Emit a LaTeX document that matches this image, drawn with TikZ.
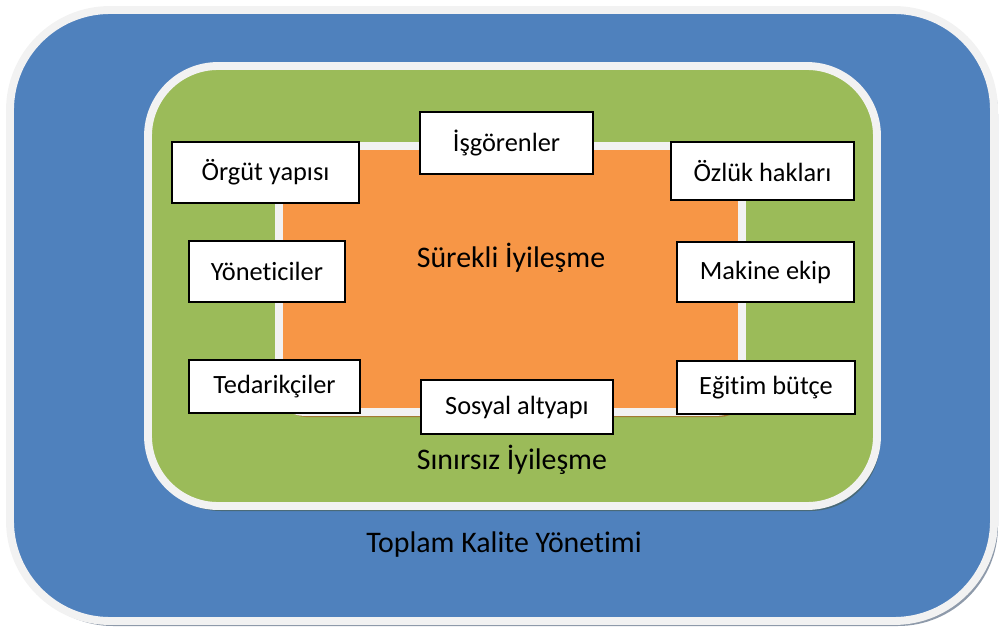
\documentclass[tikz,border=0pt]{standalone}
\usepackage{fontspec}
\setmainfont[Ligatures={NoCommon}]{Carlito}
\usepackage{tikz}
\usetikzlibrary{positioning,calc}

\definecolor{tkblue}{HTML}{4F81BD}
\definecolor{tkgreen}{HTML}{9BBB59}
\definecolor{tkorange}{HTML}{F79646}
\definecolor{tkrim}{HTML}{F2F2F2}
\definecolor{tkshadeblue}{HTML}{8E9AAA}
\definecolor{tkshadegreen}{HTML}{4A6A78}
\definecolor{tkshadeorange}{HTML}{A27A32}

\begin{document}
\begin{tikzpicture}[x=0.02cm, y=-0.02cm, font=\fontsize{15}{17}\selectfont]
    \tikzstyle{layer} = [draw=tkrim, line width=4.5pt]
    \tikzstyle{box} = [rectangle, draw=black, line width=1pt, fill=white, text centered, inner sep=0pt]
    \tikzstyle{label} = [text=black, font=\fontsize{17}{19}\selectfont]

    \useasboundingbox (0,0) rectangle (1002,632);

    % outer layer: Toplam Kalite Yonetimi
    \fill [tkshadeblue, rounded corners=100*0.02cm] (13,14) rectangle (998,626);
    \path [layer, fill=tkblue, rounded corners=100*0.02cm] (10,10) rectangle (994,621);
    % middle layer
    \fill [tkshadegreen, rounded corners=70*0.02cm] (151,70) rectangle (880,511);
    \path [layer, fill=tkgreen, rounded corners=70*0.02cm] (148,66) rectangle (877,506);
    % inner layer
    \fill [tkshadeorange, rounded corners=25*0.02cm] (281,150) rectangle (745,417);
    \path [layer, fill=tkorange, rounded corners=25*0.02cm] (279,146) rectangle (742,412);

    \node [label] (surekli) at (511,258) {Sürekli İyileşme};
    \node [label] (sinirsiz) at (512,460) {Sınırsız İyileşme};
    \node [label] (tky) at (504,545) {Toplam Kalite Yönetimi};

    \node [box, minimum width=187*0.02cm, minimum height=61*0.02cm] (orgut) at (265.5,172.5) {Örgüt yapısı};
    \node [box, minimum width=173*0.02cm, minimum height=62*0.02cm] (isgoren) at (506.5,143) {İşgörenler};
    \node [box, minimum width=183*0.02cm, minimum height=58*0.02cm] (ozluk) at (762.5,171) {Özlük hakları};
    \node [box, minimum width=156*0.02cm, minimum height=61*0.02cm] (yonetici) at (267,271.5) {Yöneticiler};
    \node [box, minimum width=177*0.02cm, minimum height=60*0.02cm] (makine) at (765.5,272) {Makine ekip};
    \node [box, minimum width=171*0.02cm, minimum height=53*0.02cm] (tedarik) at (274.5,386.5) {Tedarikçiler};
    \node [box, minimum width=192*0.02cm, minimum height=54*0.02cm] (sosyal) at (517,407) {Sosyal altyapı};
    \node [box, minimum width=178*0.02cm, minimum height=53*0.02cm] (egitim) at (766,387.5) {Eğitim bütçe};
\end{tikzpicture}
\end{document}
